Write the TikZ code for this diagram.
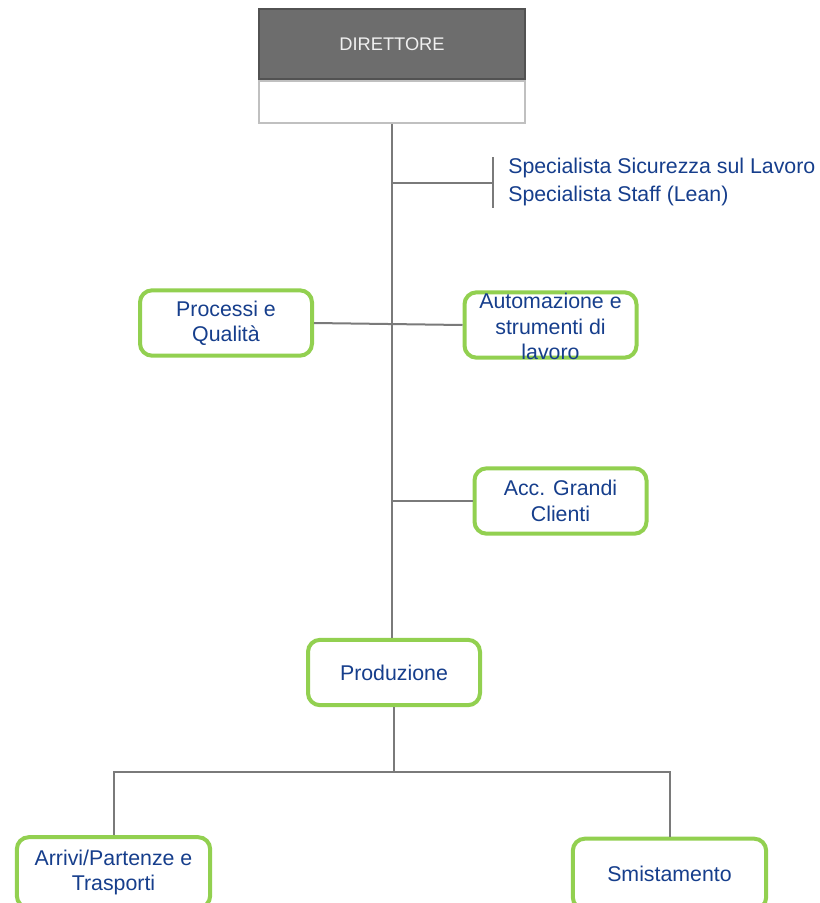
\documentclass[tikz,border=0pt]{standalone}
\usepackage{fontspec}
\setmainfont{Liberation Sans}
\definecolor{boxgreen}{RGB}{146,208,80}
\definecolor{txtblue}{RGB}{22,62,140}
\definecolor{lnkgray}{RGB}{122,122,122}
\definecolor{dirgray}{RGB}{109,109,109}
\definecolor{dirframe}{RGB}{82,82,82}
\definecolor{subframe}{RGB}{192,192,192}
\tikzset{
	unitbox/.style={draw=boxgreen, line width=3pt, rounded corners=9pt, fill=white, text=txtblue, align=center, minimum width=129pt, minimum height=49pt, inner sep=2pt, font=\fontsize{16}{19}\selectfont},
	widebox/.style={unitbox, minimum width=145pt, minimum height=53pt},
	orgline/.style={draw=lnkgray, line width=1.5pt},
}
\begin{document}
\begin{tikzpicture}[x=0.75pt,y=-0.75pt]
		\useasboundingbox (0,0) rectangle (819,903);
		% director
		\node[fill=dirgray, draw=dirframe, line width=1.5pt, minimum width=199.5pt, minimum height=52.5pt, text=white!94!black, font=\fontsize{13.7}{16}\selectfont] (dir) at (392,44) {DIRETTORE};
		\node[draw=subframe, line width=1.5pt, minimum width=199.5pt, minimum height=31.5pt, anchor=north] (dirsub) at (dir.south) {};
		% staff
		\coordinate (bar) at (493,183);
		\node[anchor=west, inner sep=0pt, align=left, text=txtblue, font=\fontsize{16}{21}\selectfont] (spec) at (508,182) {Specialista Sicurezza sul Lavoro\\Specialista Staff (Lean)};
		% units
		\node[unitbox] (proc) at (226,323) {Processi e\\Qualità};
		\node[unitbox] (auto) at (550.5,325) {\smash{\raisebox{-7.5pt}{\begin{tabular}{@{}c@{}}Automazione e\\strumenti di\\lavoro\end{tabular}}}};
		\node[unitbox] (acc) at (560.5,501) {Acc. Grandi\\Clienti};
		\node[unitbox] (prod) at (394,672.5) {Produzione};
		\node[widebox] (arr) at (113.5,872.5) {Arrivi/Partenze e\\Trasporti};
		\node[widebox] (smi) at (669.5,874) {Smistamento};
		% lines
		\draw[orgline] (dirsub.south) -- (dirsub.south |- prod.north);
		\draw[orgline] (bar -| dirsub.south) -- (bar);
		\draw[orgline] (bar) ++(0,-26) -- ++(0,51);
		\draw[orgline] (proc.east) -- (auto.west);
		\draw[orgline] (acc.west -| dirsub.south) -- (acc.west);
		\draw[orgline] (prod.south) -- ++(0,65) coordinate (fork);
		\draw[orgline] (fork) -| (arr.north);
		\draw[orgline] (fork) -| (smi.north);
		\end{tikzpicture}
\end{document}
